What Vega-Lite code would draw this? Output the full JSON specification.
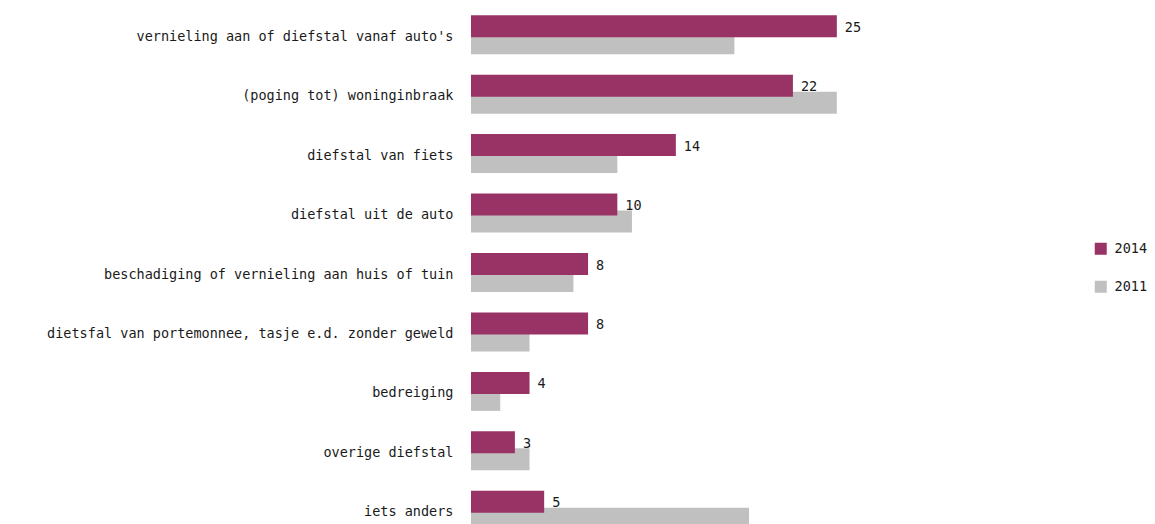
{
  "$schema": "https://vega.github.io/schema/vega-lite/v6.json",
  "autosize": "none",
  "padding": {"left": 471, "top": 5, "right": 245, "bottom": 0},
  "width": 439,
  "height": 535,
  "config": {"view": {"stroke": null}, "font": "DejaVu Sans"},
  "data": {"values": [
    {"cat": "vernieling aan of diefstal vanaf auto's", "year": "2014", "value": 25},
    {"cat": "vernieling aan of diefstal vanaf auto's", "year": "2011", "value": 18},
    {"cat": "(poging tot) woninginbraak", "year": "2014", "value": 22},
    {"cat": "(poging tot) woninginbraak", "year": "2011", "value": 25},
    {"cat": "diefstal van fiets", "year": "2014", "value": 14},
    {"cat": "diefstal van fiets", "year": "2011", "value": 10},
    {"cat": "diefstal uit de auto", "year": "2014", "value": 10},
    {"cat": "diefstal uit de auto", "year": "2011", "value": 11},
    {"cat": "beschadiging of vernieling aan huis of tuin", "year": "2014", "value": 8},
    {"cat": "beschadiging of vernieling aan huis of tuin", "year": "2011", "value": 7},
    {"cat": "dietsfal van portemonnee, tasje e.d. zonder geweld", "year": "2014", "value": 8},
    {"cat": "dietsfal van portemonnee, tasje e.d. zonder geweld", "year": "2011", "value": 4},
    {"cat": "bedreiging", "year": "2014", "value": 4},
    {"cat": "bedreiging", "year": "2011", "value": 2},
    {"cat": "overige diefstal", "year": "2014", "value": 3},
    {"cat": "overige diefstal", "year": "2011", "value": 4},
    {"cat": "iets anders", "year": "2014", "value": 5},
    {"cat": "iets anders", "year": "2011", "value": 19}
  ]},
  "encoding": {
    "y": {"field": "cat", "type": "nominal", "sort": null,
      "scale": {"paddingInner": 0, "paddingOuter": 0},
      "axis": {"title": null, "domain": false, "ticks": false, "grid": false,
        "labelPadding": 18, "labelOffset": 2, "labelFontSize": 13.5, "labelFont": "DejaVu Sans Mono", "labelColor": "#1a1a1a", "labelLimit": 500}},
    "x": {"field": "value", "type": "quantitative",
      "scale": {"domain": [0, 30], "nice": false}, "axis": null}
  },
  "layer": [
    {
      "transform": [{"filter": "datum.year === '2011'"}],
      "mark": {"type": "bar", "height": 22, "yOffset": 8.5},
      "encoding": {
        "color": {"field": "year", "type": "nominal",
          "scale": {"domain": ["2014", "2011"], "range": ["#993366", "#C0C0C0"]},
          "legend": {"title": null, "orient": "none", "legendX": 623, "legendY": 237,
            "symbolType": "square", "symbolSize": 144, "symbolStrokeWidth": 0,
            "labelFontSize": 13.5, "labelFont": "DejaVu Sans Mono", "labelColor": "#1a1a1a", "rowPadding": 23, "labelOffset": 7}}
      }
    },
    {
      "transform": [{"filter": "datum.year === '2014'"}],
      "mark": {"type": "bar", "height": 22, "yOffset": -8.5},
      "encoding": {
        "color": {"field": "year", "type": "nominal"}
      }
    },
    {
      "transform": [{"filter": "datum.year === '2014'"}],
      "mark": {"type": "text", "align": "left", "baseline": "middle", "dx": 8, "dy": 1.5, "yOffset": -8.5, "fontSize": 13.5, "font": "DejaVu Sans Mono", "color": "#1a1a1a"},
      "encoding": {
        "text": {"field": "value", "type": "quantitative"}
      }
    }
  ]
}
